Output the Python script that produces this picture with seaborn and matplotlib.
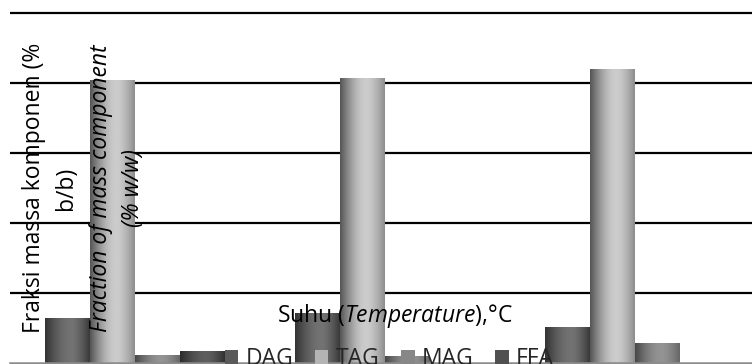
import numpy as np
import pandas as pd
import matplotlib
matplotlib.use("Agg")
import matplotlib.pyplot as plt
import seaborn as sns
from matplotlib.patches import Patch

# Mass fraction of each component (% w/w) at three reaction temperatures
groups = ["T1", "T2", "T3"]
components = ["DAG", "TAG", "MAG", "FFA"]
dag = [12.9, 14.3, 10.3]
tag = [81.0, 81.5, 83.9]
mag = [2.3, 2.0, 5.7]
ffa = [3.4, 0.0, 0.0]

legend_colors = ["#5a5a5a", "#b4b4b4", "#878787", "#505050"]
# grey levels (left edge, highlight, right edge) for the cylinder shading
shades = {
    "DAG": (0.20, 0.45, 0.22),
    "TAG": (0.33, 0.80, 0.55),
    "MAG": (0.28, 0.58, 0.40),
    "FFA": (0.17, 0.37, 0.19),
}

df = pd.DataFrame({
    "group": groups * 4,
    "component": np.repeat(components, len(groups)),
    "value": dag + tag + mag + ffa,
})

sns.set_theme(style="white")
plt.rcParams["font.family"] = ["Open Sans", "DejaVu Sans"]
plt.rcParams["mathtext.fontset"] = "custom"
plt.rcParams["mathtext.rm"] = "Open Sans"
plt.rcParams["mathtext.it"] = "Open Sans:italic"
plt.rcParams["mathtext.bf"] = "Open Sans:bold"

W, H = 752, 364
fig = plt.figure(figsize=(W / 100, H / 100), dpi=100)
ax = fig.add_axes([10 / W, 1 / H, 750 / W, (H - 9.5 - 1) / H])

sns.barplot(data=df, x="group", y="value", hue="component",
            hue_order=components, palette=legend_colors, width=0.72,
            saturation=1, errorbar=None, legend=False, ax=ax,
            linewidth=0)


def cylinder(levels, n=256, peak=0.6):
    left, mid, right = levels
    t = np.linspace(0, 1, n)
    v = np.where(
        t < peak,
        left + (mid - left) * np.sin(0.5 * np.pi * t / peak),
        mid + (right - mid) * ((t - peak) / (1 - peak)) ** 1.5,
    )
    return v[np.newaxis, :]


for comp, cont in zip(components, ax.containers):
    for bar in cont:
        h = bar.get_height()
        if h <= 0:
            continue
        x0, y0, w = bar.get_x(), bar.get_y(), bar.get_width()
        im = ax.imshow(cylinder(shades[comp]), cmap="gray", vmin=0, vmax=1,
                       extent=[x0, x0 + w, y0, y0 + h], aspect="auto",
                       interpolation="bilinear", zorder=2)
        im.set_clip_path(bar)

ax.set_xlim(-0.5, 2.5)
ax.set_ylim(0, 101)
ax.set_yticks([20, 40, 60, 80, 100])
ax.set_yticklabels([])
ax.set_xticks([])
ax.set_xlabel("")
ax.set_ylabel("")
ax.set_axisbelow(True)
ax.yaxis.grid(True, color="black", linewidth=1.6)
ax.xaxis.grid(False)
for side in ("left", "right", "top"):
    ax.spines[side].set_visible(False)
ax.spines["bottom"].set_color("#8c8c8c")
ax.spines["bottom"].set_linewidth(1.8)
ax.tick_params(length=0)

fs = 16.5
fig.text(50 / W, 1 - 188 / H, "Fraksi massa komponen (%\nb/b)",
         rotation=90, ha="center", va="center", multialignment="center",
         fontsize=fs, linespacing=1.45, color="black")
fig.text(117 / W, 1 - 188 / H, "Fraction of mass component\n(% w/w)",
         rotation=90, ha="center", va="center", multialignment="center",
         fontsize=fs, style="italic", linespacing=1.45, color="black")
fig.text(395 / W, 1 - 322 / H, r"Suhu ($\mathit{Temperature}$),°C",
         ha="center", va="baseline", fontsize=fs, color="black")

handles = [Patch(facecolor=c, edgecolor="none", label=l)
           for c, l in zip(legend_colors, components)]
ax.legend(handles=handles, ncol=4, frameon=False, fontsize=fs,
          handlelength=0.58, handleheight=0.58, handletextpad=0.32,
          columnspacing=0.95, loc="upper left", borderpad=0,
          borderaxespad=0, bbox_to_anchor=(225 / W, 1 - 347 / H),
          bbox_transform=fig.transFigure)

fig.savefig("out.png", dpi=100)
